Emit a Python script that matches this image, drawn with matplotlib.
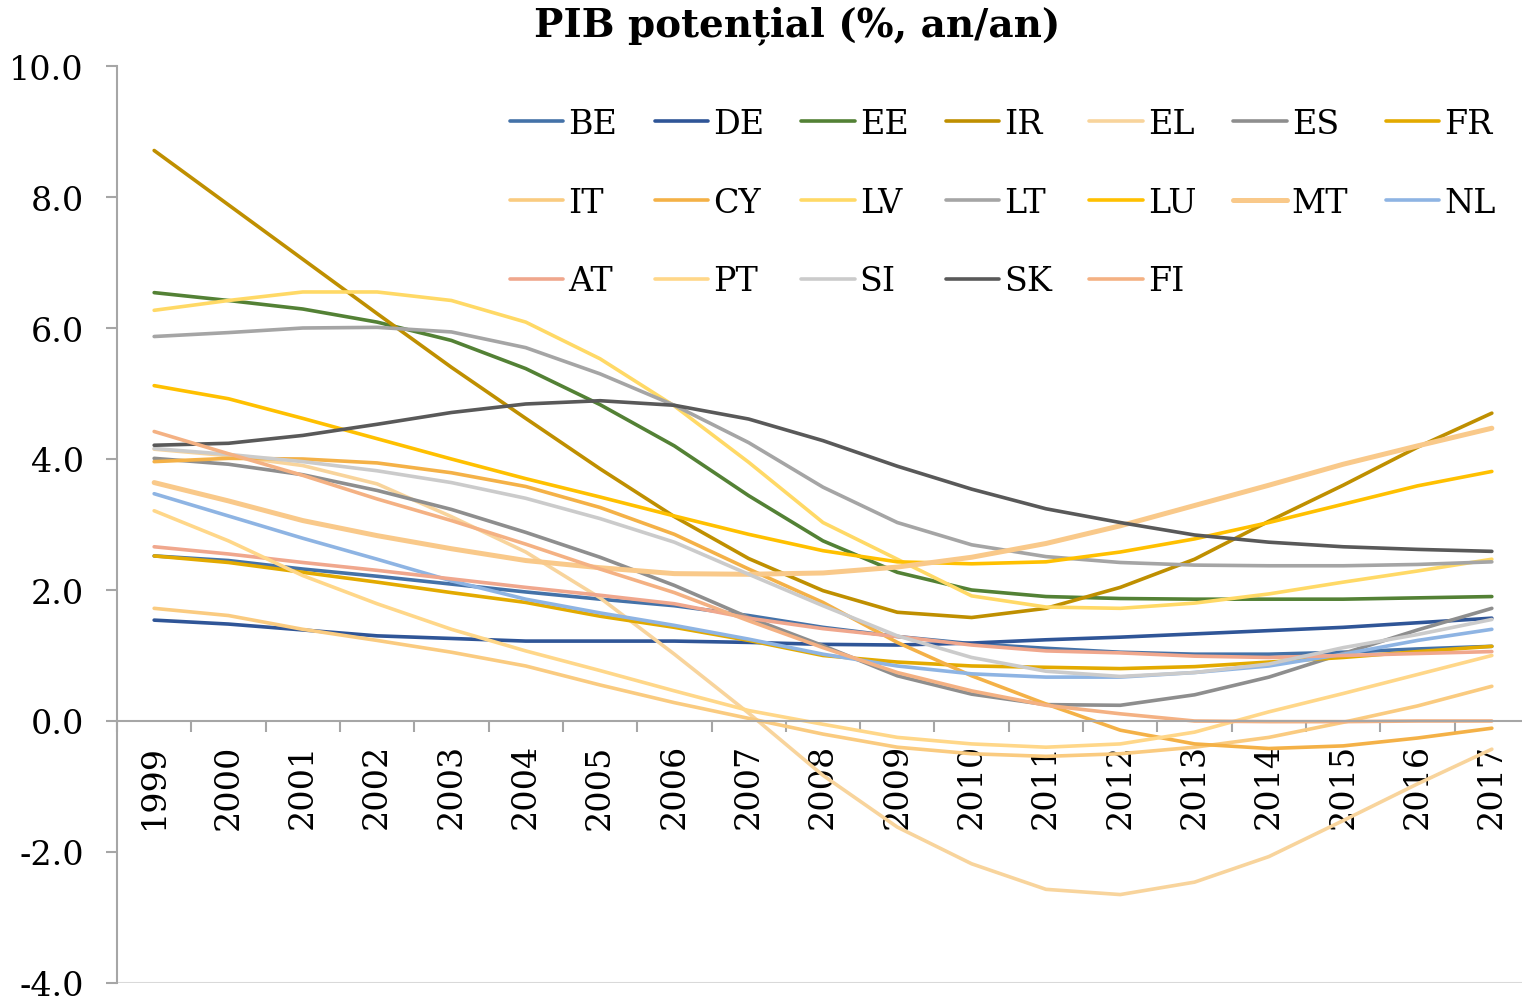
import numpy as np
import matplotlib
matplotlib.use("Agg")
import matplotlib.pyplot as plt

ani = [str(a) for a in range(1999, 2018)]

BE = [2.52, 2.45, 2.32, 2.21, 2.09, 1.97, 1.86, 1.76, 1.61, 1.43, 1.29, 1.18, 1.11, 1.05, 1.02, 1.02, 1.05, 1.10, 1.14]
DE = [1.54, 1.48, 1.39, 1.30, 1.26, 1.22, 1.22, 1.22, 1.20, 1.17, 1.16, 1.19, 1.24, 1.28, 1.33, 1.38, 1.43, 1.50, 1.57]
EE = [6.54, 6.42, 6.29, 6.09, 5.81, 5.38, 4.83, 4.20, 3.44, 2.75, 2.27, 2.00, 1.90, 1.87, 1.86, 1.86, 1.86, 1.88, 1.90]
IR = [8.71, 7.88, 7.05, 6.22, 5.40, 4.62, 3.85, 3.12, 2.48, 1.99, 1.66, 1.58, 1.72, 2.04, 2.47, 3.05, 3.60, 4.18, 4.70]
EL = [4.15, 4.05, 3.90, 3.62, 3.12, 2.58, 1.88, 1.02, 0.12, -0.83, -1.62, -2.18, -2.57, -2.65, -2.46, -2.07, -1.52, -0.96, -0.43]
ES = [4.01, 3.92, 3.76, 3.52, 3.23, 2.88, 2.50, 2.07, 1.58, 1.15, 0.69, 0.41, 0.25, 0.24, 0.40, 0.67, 1.03, 1.39, 1.72]
FR = [2.52, 2.42, 2.27, 2.12, 1.96, 1.81, 1.60, 1.43, 1.23, 1.00, 0.90, 0.84, 0.82, 0.80, 0.83, 0.90, 0.97, 1.06, 1.14]
IT = [1.72, 1.61, 1.40, 1.23, 1.05, 0.84, 0.55, 0.28, 0.04, -0.20, -0.40, -0.50, -0.54, -0.50, -0.40, -0.25, -0.02, 0.23, 0.53]
CY = [3.96, 4.01, 4.00, 3.94, 3.79, 3.58, 3.26, 2.85, 2.32, 1.81, 1.20, 0.69, 0.26, -0.14, -0.35, -0.42, -0.38, -0.26, -0.11]
LV = [6.27, 6.42, 6.55, 6.55, 6.42, 6.09, 5.53, 4.81, 3.95, 3.03, 2.47, 1.91, 1.74, 1.72, 1.80, 1.94, 2.12, 2.29, 2.47]
LT = [5.87, 5.93, 6.00, 6.01, 5.94, 5.70, 5.30, 4.82, 4.25, 3.57, 3.03, 2.69, 2.51, 2.42, 2.38, 2.37, 2.37, 2.39, 2.43]
LU = [5.12, 4.92, 4.62, 4.31, 4.00, 3.70, 3.42, 3.13, 2.85, 2.60, 2.43, 2.40, 2.43, 2.58, 2.78, 3.03, 3.31, 3.59, 3.81]
MT = [3.64, 3.36, 3.06, 2.83, 2.63, 2.45, 2.34, 2.25, 2.24, 2.26, 2.35, 2.50, 2.71, 2.98, 3.29, 3.60, 3.92, 4.20, 4.47]
NL = [3.47, 3.13, 2.79, 2.47, 2.14, 1.86, 1.65, 1.46, 1.25, 1.02, 0.84, 0.72, 0.67, 0.67, 0.74, 0.84, 1.02, 1.23, 1.40]
AT = [2.66, 2.55, 2.42, 2.30, 2.17, 2.04, 1.92, 1.79, 1.57, 1.41, 1.29, 1.16, 1.07, 1.04, 0.99, 0.97, 1.00, 1.03, 1.06]
PT = [3.21, 2.75, 2.22, 1.79, 1.40, 1.07, 0.77, 0.46, 0.16, -0.05, -0.25, -0.35, -0.40, -0.35, -0.17, 0.14, 0.42, 0.71, 1.00]
SI = [4.16, 4.07, 3.96, 3.82, 3.64, 3.40, 3.09, 2.73, 2.24, 1.76, 1.30, 0.97, 0.76, 0.68, 0.74, 0.87, 1.12, 1.32, 1.55]
SK = [4.21, 4.24, 4.36, 4.53, 4.71, 4.84, 4.89, 4.82, 4.61, 4.28, 3.89, 3.54, 3.24, 3.03, 2.84, 2.73, 2.66, 2.62, 2.59]
FI = [4.42, 4.08, 3.75, 3.39, 3.06, 2.70, 2.32, 1.96, 1.53, 1.12, 0.74, 0.46, 0.24, 0.11, 0.00, -0.01, -0.01, 0.00, 0.00]

tari = ["BE", "DE", "EE", "IR", "EL", "ES", "FR", "IT", "CY", "LV",
        "LT", "LU", "MT", "NL", "AT", "PT", "SI", "SK", "FI"]
serii = [BE, DE, EE, IR, EL, ES, FR, IT, CY, LV, LT, LU, MT, NL, AT, PT, SI, SK, FI]
culori = ["#4472A8", "#2F5597", "#538135", "#BF8F00", "#F8D49C", "#8E8E8E", "#E3AA00",
          "#FACB80", "#F4B147", "#FFD966", "#A5A5A5", "#FFC000", "#F9C98A", "#8EB4E3",
          "#F0A78D", "#FFD789", "#CBCBCB", "#595959", "#F4B183"]

plt.rcParams["font.family"] = "DejaVu Serif"

fig = plt.figure(figsize=(15.22, 10.04), dpi=100)
ax = fig.add_axes([117 / 1522, 1 - 984 / 1004, 1412 / 1522, 917 / 1004])

x = np.arange(len(ani))
linii = []
for nume, val, c in zip(tari, serii, culori):
    lw = 3.6 if nume == "MT" else 2.6
    l, = ax.plot(x, val, color=c, lw=lw, label=nume, solid_capstyle="round")
    linii.append(l)

ax.set_xlim(-0.5, len(ani) - 0.5)
ax.set_ylim(-4, 10)
ax.set_yticks(np.arange(-4, 10.1, 2))
ax.set_yticklabels(["%.1f" % v for v in np.arange(-4, 10.1, 2)])

# axa categoriilor trece prin 0
ax.spines["top"].set_visible(False)
ax.spines["right"].set_visible(False)
ax.spines["bottom"].set_position(("data", 0))
ax.spines["bottom"].set_color("#A6A6A6")
ax.spines["bottom"].set_linewidth(1.5)
ax.spines["left"].set_color("#A6A6A6")
ax.spines["left"].set_linewidth(1.5)
ax.axhline(-4, color="#D9D9D9", lw=1.5, zorder=0)

ax.set_xticks(x)
ax.set_xticklabels(ani, rotation=90, va="top")
ax.set_xticks(np.arange(-0.5, len(ani), 1), minor=True)
ax.tick_params(axis="x", which="major", length=0, pad=16, labelsize=24)
ax.tick_params(axis="x", which="minor", length=8, width=1.5, color="#A6A6A6", direction="out")
ax.tick_params(axis="y", length=8, width=1.5, color="#A6A6A6", pad=16, labelsize=24)

# legenda: 7 coloane, completata pe randuri
ordine = [0, 7, 14, 1, 8, 15, 2, 9, 16, 3, 10, 17, 4, 11, 18, 5, 12, 6, 13]
ax.legend([linii[i] for i in ordine], [tari[i] for i in ordine], ncol=7,
          loc="upper left", bbox_to_anchor=(393 / 1412, 1 - 42 / 917),
          frameon=False, fontsize=24, handlelength=1.6, handletextpad=0.15,
          columnspacing=1.12, labelspacing=1.4, borderaxespad=0, borderpad=0)

fig.text(797 / 1522, 1 - 26 / 1004, "PIB potențial (%, an/an)", ha="center", va="center",
         fontsize=28, fontweight="bold")

plt.savefig("out.png", dpi=100)
